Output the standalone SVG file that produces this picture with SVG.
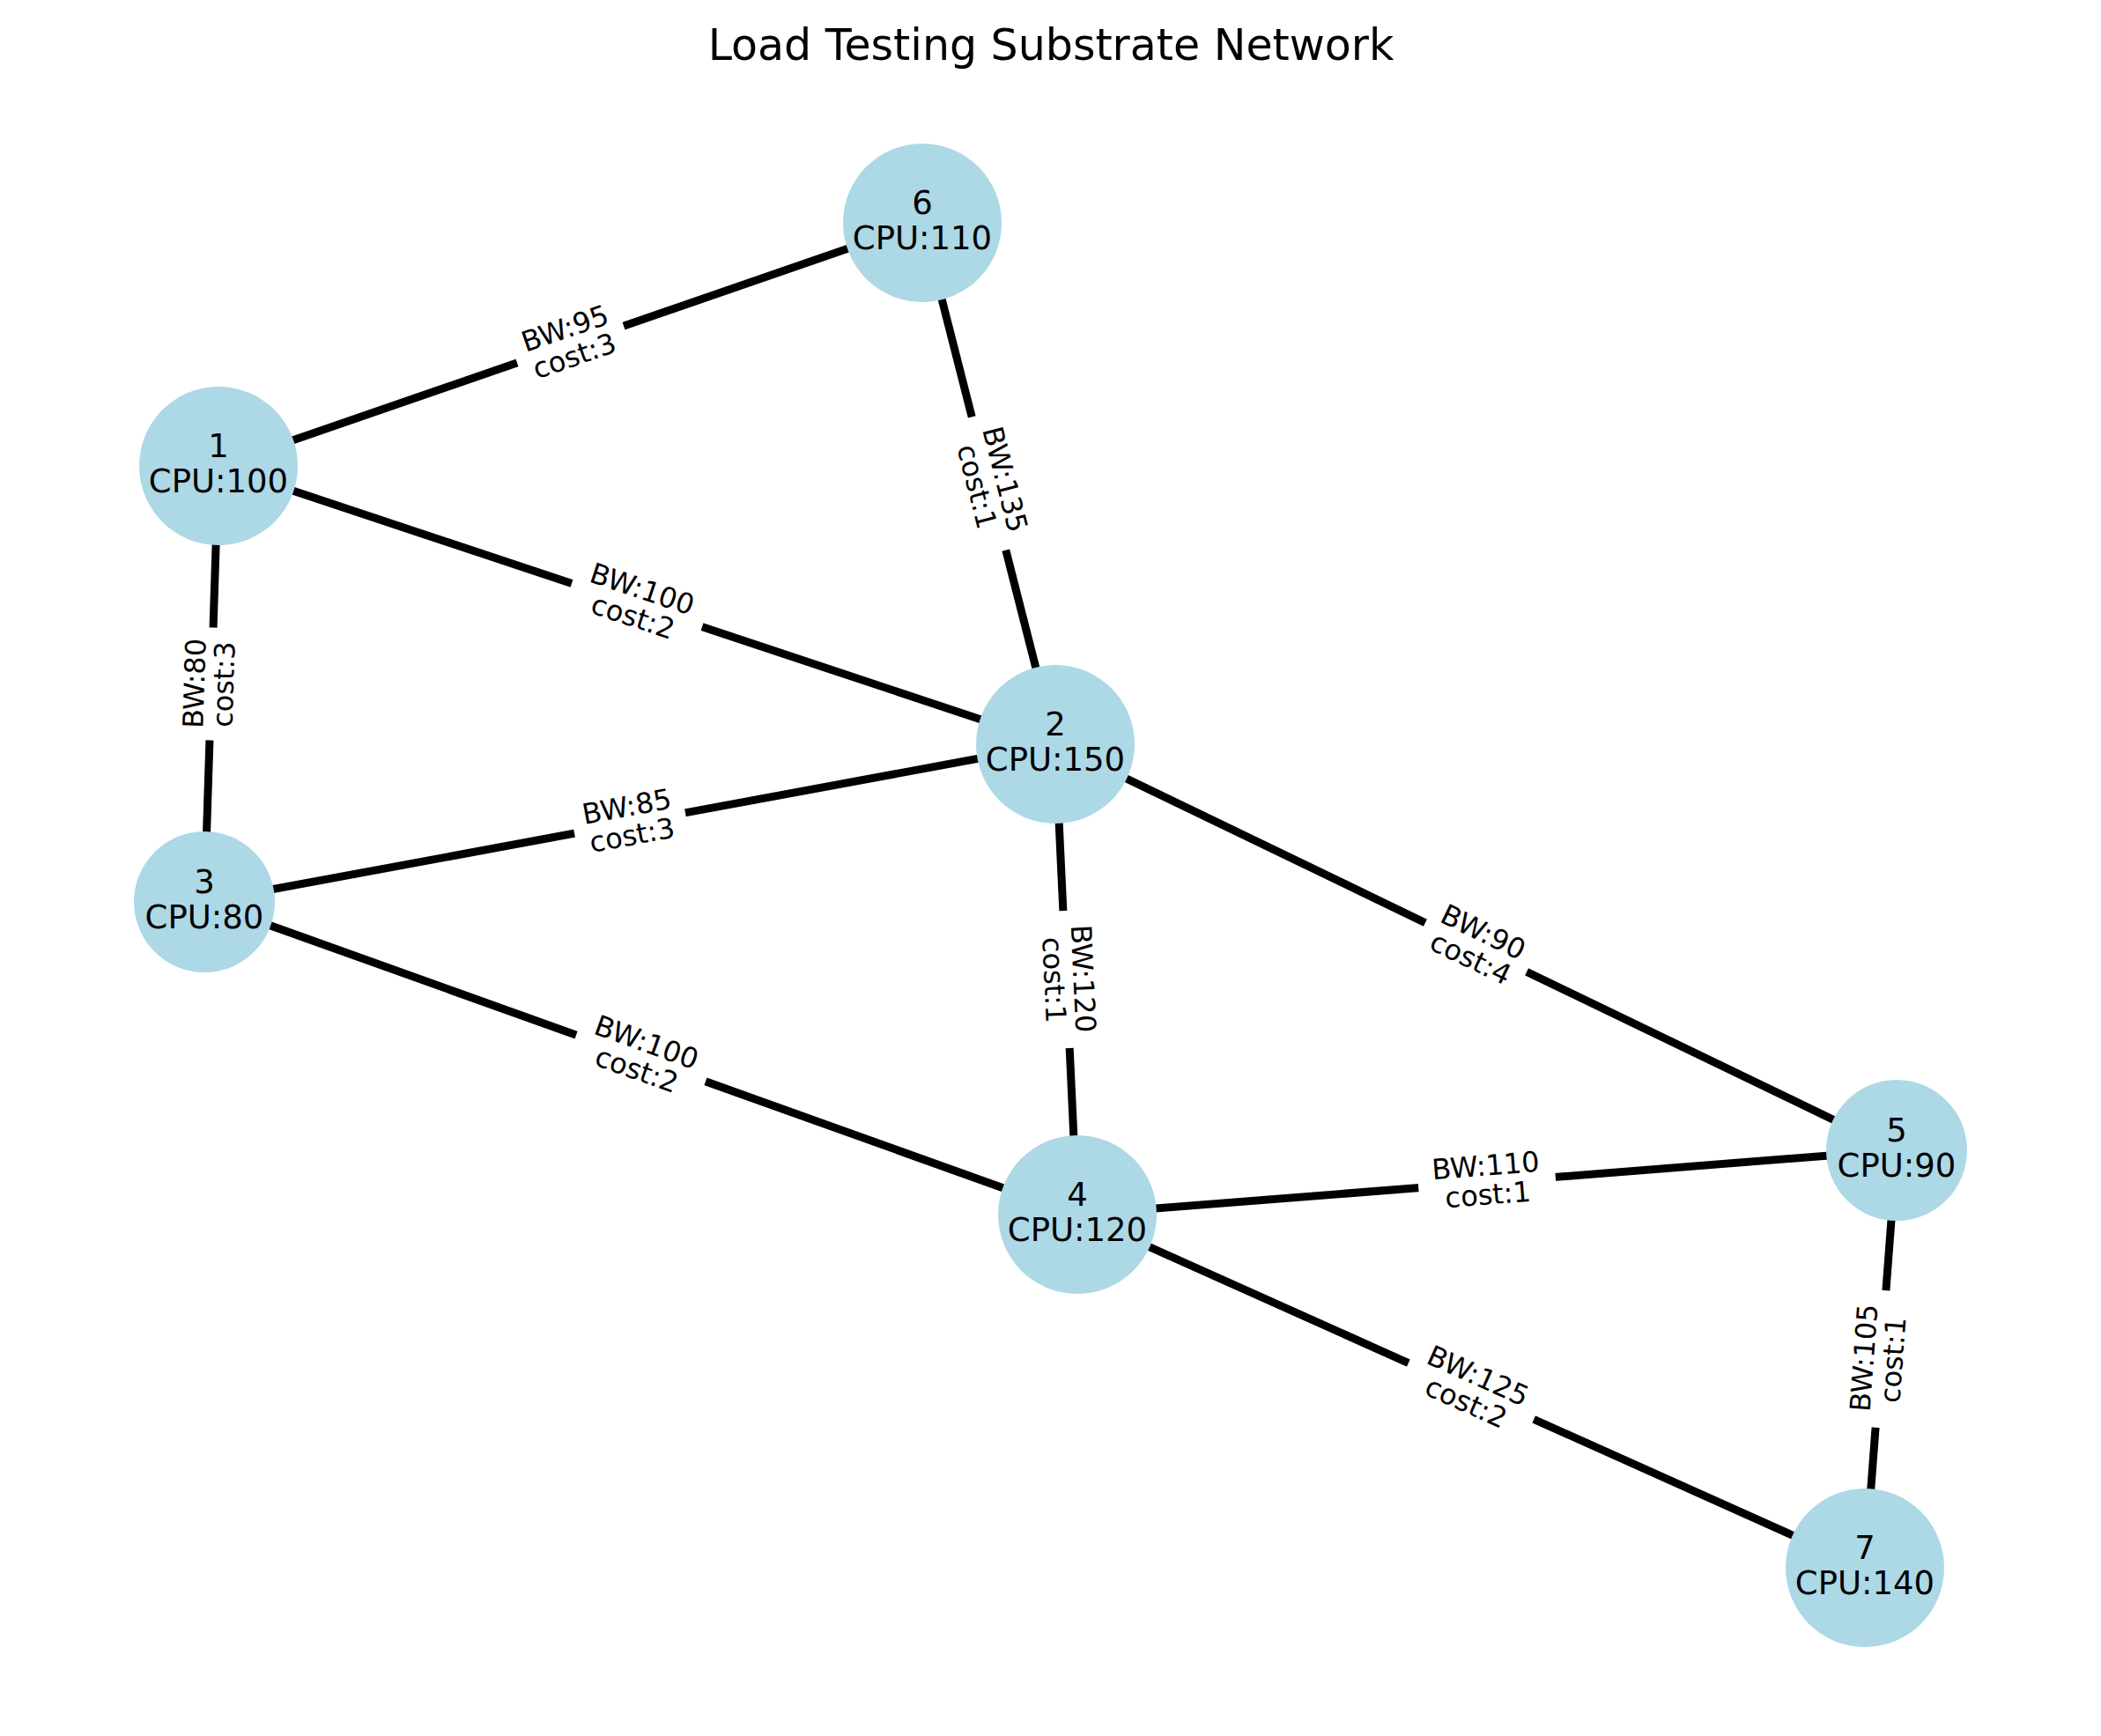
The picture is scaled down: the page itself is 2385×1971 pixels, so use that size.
<svg xmlns="http://www.w3.org/2000/svg" width="2385" height="1971" viewBox="0 0 2385 1971">
<style>
.e{stroke:#000;stroke-width:9;stroke-linecap:butt}
.n{fill:#ADD8E6}
.nt{font-family:"DejaVu Sans",sans-serif;font-size:37px;text-anchor:middle;fill:#000}
.lt{font-family:"DejaVu Sans",sans-serif;font-size:32px;text-anchor:middle;fill:#000}
.lb{fill:#fff}
.ti{font-family:"DejaVu Sans",sans-serif;font-size:49px;text-anchor:middle;fill:#000}
</style>
<rect width="2385" height="1971" fill="#fff"/>
<text class="ti" x="1193" y="68">Load Testing Substrate Network</text>
<g id="connectors">
<line class="e" x1="248" y1="529" x2="1047" y2="253"/>
<line class="e" x1="248" y1="529" x2="1198" y2="845"/>
<line class="e" x1="248" y1="529" x2="232" y2="1024"/>
<line class="e" x1="1047" y1="253" x2="1198" y2="845"/>
<line class="e" x1="1198" y1="845" x2="232" y2="1024"/>
<line class="e" x1="1198" y1="845" x2="1223" y2="1379"/>
<line class="e" x1="1198" y1="845" x2="2153" y2="1306"/>
<line class="e" x1="232" y1="1024" x2="1223" y2="1379"/>
<line class="e" x1="1223" y1="1379" x2="2153" y2="1306"/>
<line class="e" x1="1223" y1="1379" x2="2117" y2="1780"/>
<line class="e" x1="2153" y1="1306" x2="2117" y2="1780"/>
</g>
<g id="node1"><circle class="n" cx="248" cy="529" r="90"/><text class="nt" x="248" y="519">1</text><text class="nt" x="248" y="559">CPU:100</text></g>
<g id="node2"><circle class="n" cx="1198" cy="845" r="90"/><text class="nt" x="1198" y="835">2</text><text class="nt" x="1198" y="875">CPU:150</text></g>
<g id="node3"><circle class="n" cx="232" cy="1024" r="80"/><text class="nt" x="232" y="1014">3</text><text class="nt" x="232" y="1054">CPU:80</text></g>
<g id="node4"><circle class="n" cx="1223" cy="1379" r="90"/><text class="nt" x="1223" y="1369">4</text><text class="nt" x="1223" y="1409">CPU:120</text></g>
<g id="node5"><circle class="n" cx="2153" cy="1306" r="80"/><text class="nt" x="2153" y="1296">5</text><text class="nt" x="2153" y="1336">CPU:90</text></g>
<g id="node6"><circle class="n" cx="1047" cy="253" r="90"/><text class="nt" x="1047" y="243">6</text><text class="nt" x="1047" y="283">CPU:110</text></g>
<g id="node7"><circle class="n" cx="2117" cy="1780" r="90"/><text class="nt" x="2117" y="1770">7</text><text class="nt" x="2117" y="1810">CPU:140</text></g>
<g id="edge-labels">
<g transform="translate(647.5,391) rotate(-19.06)"><rect class="lb" x="-64" y="-44" width="128" height="84" rx="12"/><text class="lt" y="-8">BW:95</text><text class="lt" y="25">cost:3</text></g>
<g transform="translate(723,687) rotate(18.40)"><rect class="lb" x="-78" y="-44" width="156" height="84" rx="12"/><text class="lt" y="-8">BW:100</text><text class="lt" y="25">cost:2</text></g>
<g transform="translate(240,776.5) rotate(-88.15)"><rect class="lb" x="-64" y="-44" width="128" height="84" rx="12"/><text class="lt" y="-8">BW:80</text><text class="lt" y="25">cost:3</text></g>
<g transform="translate(1122.5,549) rotate(75.69)"><rect class="lb" x="-78" y="-44" width="156" height="84" rx="12"/><text class="lt" y="-8">BW:135</text><text class="lt" y="25">cost:1</text></g>
<g transform="translate(715,934.5) rotate(-10.50)"><rect class="lb" x="-64" y="-44" width="128" height="84" rx="12"/><text class="lt" y="-8">BW:85</text><text class="lt" y="25">cost:3</text></g>
<g transform="translate(1210.5,1112) rotate(87.32)"><rect class="lb" x="-78" y="-44" width="156" height="84" rx="12"/><text class="lt" y="-8">BW:120</text><text class="lt" y="25">cost:1</text></g>
<g transform="translate(1675.5,1075.5) rotate(25.77)"><rect class="lb" x="-64" y="-44" width="128" height="84" rx="12"/><text class="lt" y="-8">BW:90</text><text class="lt" y="25">cost:4</text></g>
<g transform="translate(727.5,1201.5) rotate(19.71)"><rect class="lb" x="-78" y="-44" width="156" height="84" rx="12"/><text class="lt" y="-8">BW:100</text><text class="lt" y="25">cost:2</text></g>
<g transform="translate(1688,1342.5) rotate(-4.49)"><rect class="lb" x="-78" y="-44" width="156" height="84" rx="12"/><text class="lt" y="-8">BW:110</text><text class="lt" y="25">cost:1</text></g>
<g transform="translate(1670,1579.5) rotate(24.16)"><rect class="lb" x="-78" y="-44" width="156" height="84" rx="12"/><text class="lt" y="-8">BW:125</text><text class="lt" y="25">cost:2</text></g>
<g transform="translate(2135,1543) rotate(-85.66)"><rect class="lb" x="-78" y="-44" width="156" height="84" rx="12"/><text class="lt" y="-8">BW:105</text><text class="lt" y="25">cost:1</text></g>
</g>
</svg>
